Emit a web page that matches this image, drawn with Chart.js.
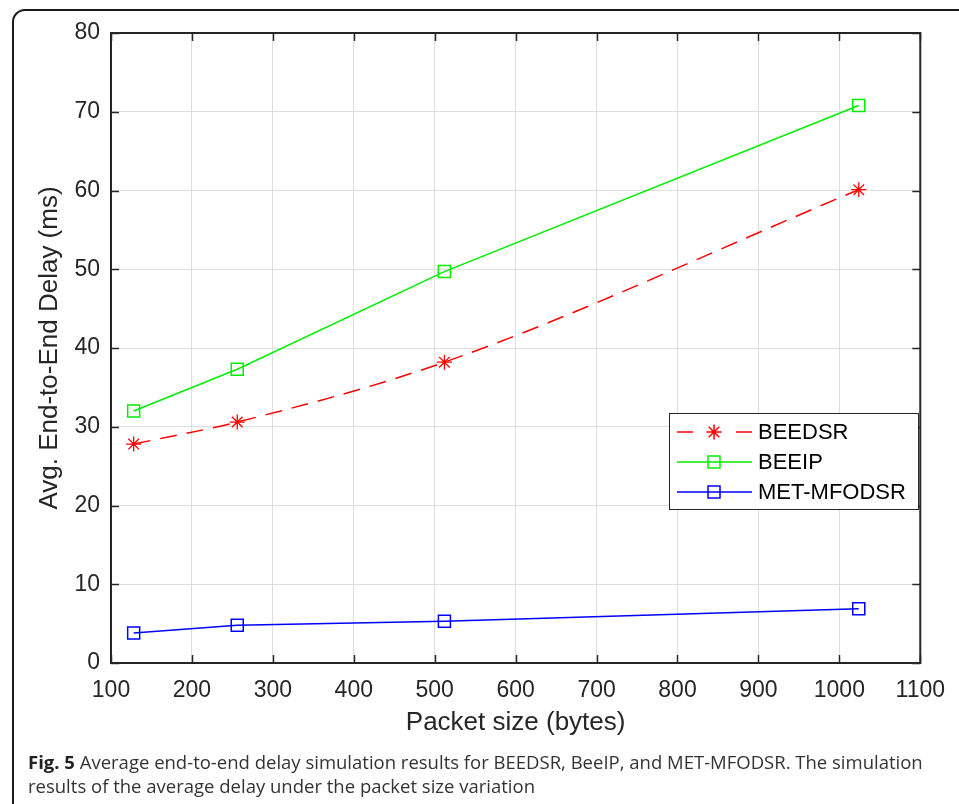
<!DOCTYPE html>
<html>
<head>
<meta charset="utf-8">
<script src="https://cdn.jsdelivr.net/npm/chart.js@4/dist/chart.umd.min.js"></script>
<style>
  html, body { margin: 0; padding: 0; background: #fff; width: 959px; height: 804px; overflow: hidden; }
  #frame {
    position: absolute; left: 12px; top: 9px; width: 1100px; height: 900px;
    border: 2px solid #1a1a1a; border-radius: 13px; box-sizing: border-box;
  }
  #plot { position: absolute; left: 0; top: 0; }
  #caption {
    position: absolute; left: 28px; top: 750px; width: 930px;
    font-family: "Open Sans", "Noto Sans", sans-serif; font-size: 18.5px; line-height: 24px;
    color: #333;
  }
  #caption b { color: #222; }
</style>
</head>
<body>
<div id="frame"></div>
<canvas id="plot" width="959" height="804"></canvas>
<div id="caption"><b>Fig. 5</b> Average end-to-end delay simulation results for BEEDSR, BeeIP, and MET-MFODSR. The simulation results of the average delay under the packet size variation</div>
<script>
// Packet sizes (bytes) and average end-to-end delay (ms) per protocol
const packetSizes = [128, 256, 512, 1024];
const beedsrDelay = [27.8, 30.6, 38.2, 60.1];
const beeipDelay = [32.0, 37.3, 49.7, 70.8];
const metMfodsrDelay = [3.8, 4.8, 5.3, 6.9];

const xRange = [100, 1100];
const yRange = [0, 80];
const xStep = 100;
const yStep = 10;

const seriesNames = ['BEEDSR', 'BEEIP', 'MET-MFODSR'];

const axisColor = '#262626';
const gridColor = '#dedede';
const fontFamily = '"Liberation Sans", Arial, Helvetica, sans-serif';

function toPoints(xs, ys) {
  return xs.map((x, i) => ({ x: x, y: ys[i] }));
}

// Box around the axes with inward ticks on all four sides
const boxTicks = {
  id: 'boxTicks',
  afterDatasetsDraw(chart) {
    const { ctx, chartArea: a, scales } = chart;
    const len = 8;
    ctx.save();
    ctx.strokeStyle = axisColor;
    ctx.lineWidth = 1.5;
    ctx.beginPath();
    scales.x.ticks.forEach(t => {
      const px = Math.round(scales.x.getPixelForValue(t.value)) + 0.5;
      ctx.moveTo(px, a.bottom); ctx.lineTo(px, a.bottom - len);
      ctx.moveTo(px, a.top); ctx.lineTo(px, a.top + len);
    });
    scales.y.ticks.forEach(t => {
      const py = Math.round(scales.y.getPixelForValue(t.value)) + 0.5;
      ctx.moveTo(a.left, py); ctx.lineTo(a.left + len, py);
      ctx.moveTo(a.right, py); ctx.lineTo(a.right - len, py);
    });
    ctx.stroke();
    ctx.lineWidth = 2;
    ctx.strokeRect(a.left, a.top, a.right - a.left, a.bottom - a.top);
    ctx.restore();
  }
};

// Legend box with line + marker samples
const lineLegend = {
  id: 'lineLegend',
  afterDraw(chart) {
    const { ctx } = chart;
    const bx = 669, by = 413, bw = 249, bh = 96;
    ctx.save();
    ctx.fillStyle = '#fff';
    ctx.fillRect(bx, by, bw, bh);
    ctx.strokeStyle = '#262626';
    ctx.lineWidth = 1;
    ctx.strokeRect(bx + 0.5, by + 0.5, bw, bh);
    const rows = [432, 462, 492];
    chart.data.datasets.forEach((ds, i) => {
      const y = rows[i];
      ctx.strokeStyle = ds.borderColor;
      ctx.lineWidth = ds.borderWidth;
      ctx.beginPath();
      if (ds.borderDash) {
        ctx.moveTo(677, y); ctx.lineTo(693, y);
        ctx.moveTo(736, y); ctx.lineTo(752, y);
      } else {
        ctx.moveTo(677, y); ctx.lineTo(752, y);
      }
      ctx.stroke();
      const cx = 714;
      ctx.beginPath();
      if (ds.pointStyle === 'star') {
        const r = ds.pointRadius;
        const d = r * Math.SQRT1_2;
        ctx.moveTo(cx - r, y); ctx.lineTo(cx + r, y);
        ctx.moveTo(cx, y - r); ctx.lineTo(cx, y + r);
        ctx.moveTo(cx - d, y - d); ctx.lineTo(cx + d, y + d);
        ctx.moveTo(cx - d, y + d); ctx.lineTo(cx + d, y - d);
      } else {
        const s = ds.pointRadius * Math.SQRT1_2;
        ctx.rect(cx - s, y - s, 2 * s, 2 * s);
      }
      ctx.stroke();
      ctx.fillStyle = '#000';
      ctx.font = '22px ' + fontFamily;
      ctx.textBaseline = 'middle';
      ctx.textAlign = 'left';
      ctx.fillText(ds.label, 758, y + 1);
    });
    ctx.restore();
  }
};

new Chart(document.getElementById('plot'), {
  type: 'line',
  data: {
    datasets: [
      {
        label: seriesNames[0],
        data: toPoints(packetSizes, beedsrDelay),
        borderColor: '#ff0000',
        backgroundColor: 'transparent',
        borderWidth: 1.5,
        borderDash: [17, 10],
        cubicInterpolationMode: 'monotone',
        pointStyle: 'star',
        pointRadius: 7.5,
        pointBorderWidth: 1.3,
        pointBorderColor: '#ff0000',
        fill: false
      },
      {
        label: seriesNames[1],
        data: toPoints(packetSizes, beeipDelay),
        borderColor: '#00ee00',
        backgroundColor: 'transparent',
        borderWidth: 1.5,
        pointStyle: 'rect',
        pointRadius: 8.5,
        pointBorderWidth: 1.5,
        pointBorderColor: '#00ee00',
        pointBackgroundColor: 'transparent',
        fill: false
      },
      {
        label: seriesNames[2],
        data: toPoints(packetSizes, metMfodsrDelay),
        borderColor: '#0000ff',
        backgroundColor: 'transparent',
        borderWidth: 1.5,
        pointStyle: 'rect',
        pointRadius: 8.5,
        pointBorderWidth: 1.5,
        pointBorderColor: '#0000ff',
        pointBackgroundColor: 'transparent',
        fill: false
      }
    ]
  },
  options: {
    responsive: false,
    devicePixelRatio: 1,
    animation: false,
    layout: { padding: { left: 0, top: 33, right: 36, bottom: 61 } },
    plugins: { legend: { display: false }, tooltip: { enabled: false } },
    scales: {
      x: {
        type: 'linear',
        min: xRange[0], max: xRange[1],
        afterFit(scale) { scale.height = 80; },
        ticks: {
          stepSize: xStep, color: axisColor, padding: 14,
          font: { family: fontFamily, size: 23 },
          maxRotation: 0, autoSkip: false,
          callback: v => String(v)
        },
        grid: { color: gridColor, lineWidth: 1, drawTicks: false },
        border: { display: false },
        title: {
          display: true, text: 'Packet size (bytes)', color: axisColor,
          font: { family: fontFamily, size: 26 }, padding: { top: 0, bottom: 5 }
        }
      },
      y: {
        type: 'linear',
        min: yRange[0], max: yRange[1],
        afterFit(scale) { scale.width = 111; },
        ticks: {
          stepSize: yStep, color: axisColor, padding: 11,
          font: { family: fontFamily, size: 23 },
          callback: v => String(v)
        },
        grid: { color: gridColor, lineWidth: 1, drawTicks: false },
        border: { display: false },
        title: {
          display: true, text: 'Avg. End-to-End Delay (ms)', color: axisColor,
          font: { family: fontFamily, size: 26 }, padding: { top: 34, bottom: 0 }
        }
      }
    }
  },
  plugins: [boxTicks, lineLegend]
});
</script>
</body>
</html>
